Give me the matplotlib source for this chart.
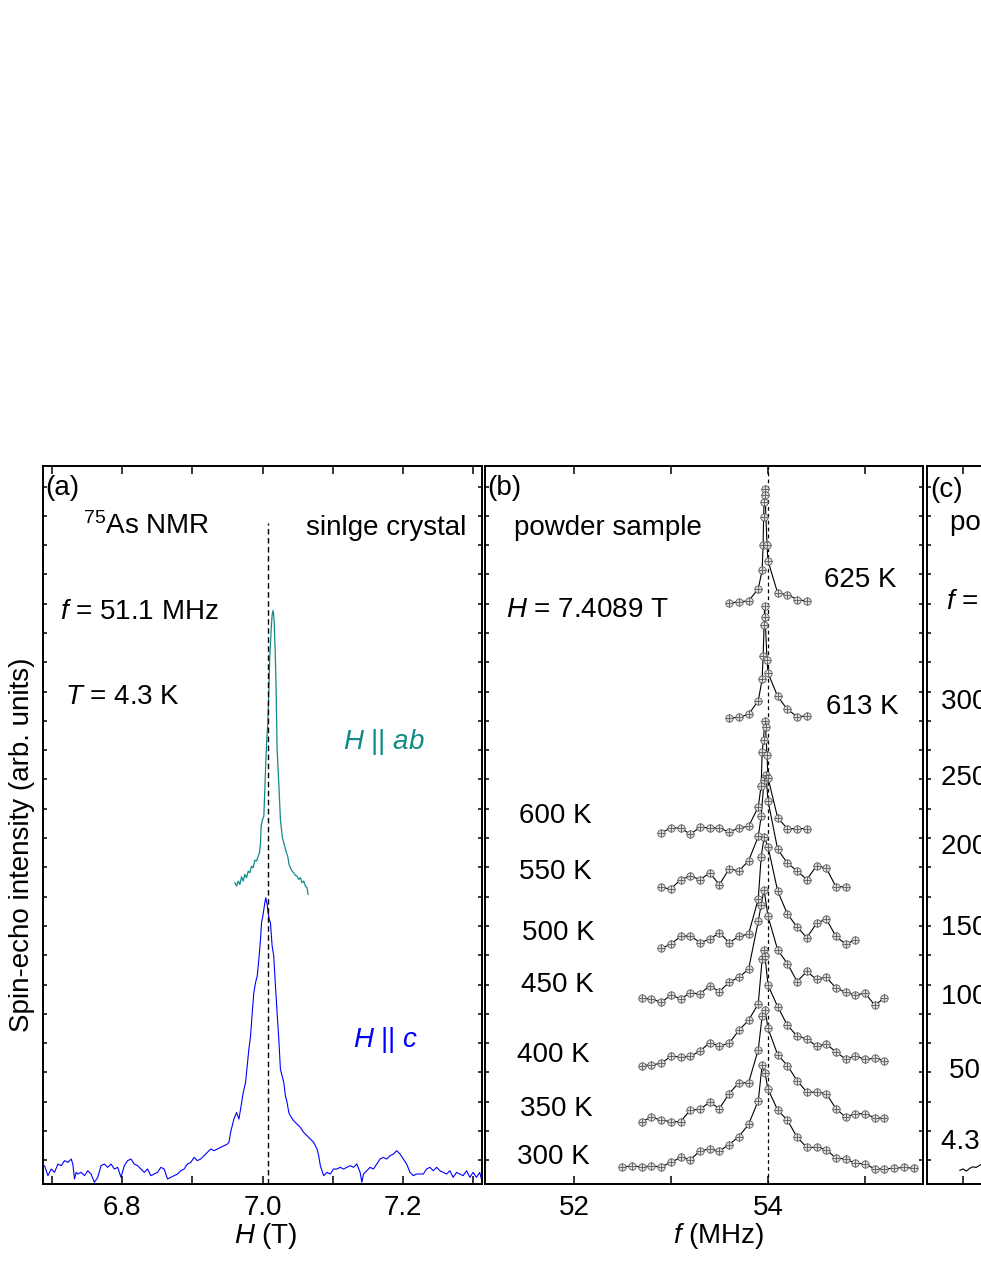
import numpy as np
import matplotlib
matplotlib.use('Agg')
import matplotlib.pyplot as plt

plt.rcParams['font.family'] = 'Liberation Sans'
plt.rcParams['mathtext.fontset'] = 'custom'
plt.rcParams['mathtext.rm'] = 'Liberation Sans'
plt.rcParams['mathtext.it'] = 'Liberation Sans:italic'
plt.rcParams['mathtext.bf'] = 'Liberation Sans:bold'

#---------- panel (a): 75As NMR field-swept spectra, single crystal, T = 4.3 K
h_c = [6.6898, 6.6946, 6.6993, 6.7040, 6.7088, 6.7135, 6.7182, 6.7230, 6.7277, 6.7300,
       6.7324, 6.7348, 6.7372, 6.7418, 6.7466, 6.7513, 6.7560, 6.7607, 6.7655, 6.7702,
       6.7749, 6.7797, 6.7844, 6.7891, 6.7939, 6.7986, 6.8033, 6.8080, 6.8128, 6.8175,
       6.8222, 6.8270, 6.8317, 6.8364, 6.8411, 6.8459, 6.8506, 6.8553, 6.8600, 6.8648,
       6.8695, 6.8742, 6.8790, 6.8837, 6.8884, 6.8931, 6.8979, 6.9026, 6.9073, 6.9120,
       6.9168, 6.9215, 6.9262, 6.9310, 6.9357, 6.9404, 6.9452, 6.9499,
       6.9522, 6.9546, 6.9593, 6.9631, 6.9664, 6.9688, 6.9726, 6.9759, 6.9783, 6.9806,
       6.9830, 6.9854, 6.9877, 6.9901, 6.9925, 6.9948, 6.9972, 6.9986, 7.0005, 7.0019,
       7.0033, 7.0047, 7.0066, 7.0080, 7.0095, 7.0113, 7.0137, 7.0160, 7.0184, 7.0208,
       7.0232, 7.0255, 7.0279, 7.0303, 7.0326, 7.0350, 7.0374, 7.0397, 7.0444, 7.0492,
       7.0539, 7.0586, 7.0634, 7.0681, 7.0728, 7.0752, 7.0776, 7.0800, 7.0823, 7.0847,
       7.0870, 7.0918, 7.0965, 7.1012,
       7.1059, 7.1106, 7.1153, 7.1201, 7.1248, 7.1295, 7.1343, 7.1390, 7.1414, 7.1437,
       7.1485, 7.1532, 7.1579, 7.1626, 7.1674, 7.1721, 7.1768, 7.1816, 7.1863, 7.1910,
       7.1957, 7.2005, 7.2052, 7.2099, 7.2147, 7.2194, 7.2241, 7.2289, 7.2336, 7.2383,
       7.2430, 7.2478, 7.2525, 7.2572, 7.2620, 7.2667, 7.2714, 7.2762, 7.2809, 7.2856,
       7.2904, 7.2951, 7.2998, 7.3045, 7.3092, 7.3116]
i_c = [2.55, 1.16, 2.09, 1.62, 2.78, 2.55, 3.25, 3.01, 3.48, 2.78,
       0.70, 1.62, 1.39, 1.62, 1.16, 1.85, 1.39, 0.23, 0.93, 2.55,
       2.78, 2.32, 2.78, 2.09, 2.32, 0.93, 2.55, 3.25, 3.48, 2.78,
       2.55, 2.09, 1.62, 2.09, 1.16, 1.39, 1.62, 2.32, 2.09, 0.70,
       0.93, 1.16, 1.39, 1.85, 2.09, 2.78, 3.01, 3.71, 3.25, 3.48,
       3.94, 4.40, 4.87, 4.64, 4.87, 5.10, 5.33, 5.56,
       5.80, 7.19, 9.04, 9.97, 9.04, 10.43, 12.75, 14.14, 16.46, 18.78,
       20.63, 23.88, 26.66, 28.05, 28.97, 31.29, 34.08, 36.40, 37.32, 38.25,
       39.18, 39.87, 38.94, 37.78, 36.86, 36.40, 33.15, 31.76, 27.59, 23.88,
       20.17, 15.99, 15.07, 14.14, 12.29, 11.36, 9.97, 9.50, 8.80, 8.34,
       7.88, 7.19, 6.72, 6.26, 5.80, 5.33, 4.87, 3.94, 2.55, 1.85,
       1.16, 1.62, 1.39, 2.09,
       2.09, 2.32, 2.09, 2.32, 2.55, 2.32, 2.78, 1.62, 0.23, 1.39,
       1.85, 2.32, 2.09, 2.78, 3.48, 3.71, 3.48, 3.94, 4.17, 4.64,
       4.17, 3.48, 2.78, 1.62, 1.16, 1.39, 1.39, 1.39, 2.09, 2.32,
       1.85, 2.32, 1.85, 1.62, 1.39, 1.85, 0.93, 1.62, 1.39, 1.16,
       1.85, 0.93, 1.62, 0.93, 1.62, 0.70]

h_ab = [6.9607, 6.9631, 6.9655, 6.9678, 6.9702, 6.9726, 6.9749, 6.9773, 6.9797, 6.9820,
        6.9844, 6.9868, 6.9891, 6.9915, 6.9939, 6.9957, 6.9972, 6.9981, 7.0000, 7.0019,
        7.0033, 7.0047, 7.0061, 7.0076, 7.0090, 7.0104, 7.0123, 7.0137, 7.0151, 7.0165,
        7.0180, 7.0194, 7.0208, 7.0222, 7.0236, 7.0255, 7.0270, 7.0284, 7.0303, 7.0322,
        7.0340, 7.0359, 7.0378, 7.0397, 7.0421, 7.0444, 7.0468, 7.0492, 7.0515, 7.0539,
        7.0563, 7.0586, 7.0610, 7.0634, 7.0648]
i_ab = [41.96, 41.49, 42.19, 41.72, 42.79, 42.19, 43.12, 42.65, 43.58, 43.35,
        44.27, 44.05, 45.11, 44.97, 45.66, 46.13, 47.52, 49.84, 50.76, 51.23,
        54.94, 58.65, 61.89, 64.21, 68.85, 73.48, 77.19, 79.28, 79.88, 78.58,
        74.41, 68.85, 60.50, 57.72, 54.94, 50.76, 49.37, 48.21, 47.52, 46.82,
        46.13, 45.66, 44.51, 44.05, 43.58, 43.35, 42.98, 42.89, 42.42, 42.65,
        41.96, 42.19, 41.49, 41.26, 40.33]

#---------- panel (b): powder sample, frequency-swept, H = 7.4089 T (stacked, arb. offsets)
f_300 = [52.5, 52.6, 52.7, 52.8, 52.9, 53.0, 53.1, 53.2, 53.3, 53.4, 53.5, 53.6, 53.7, 53.8, 53.9,
         53.94, 53.97, 54.0, 54.1, 54.2, 54.3, 54.4, 54.5, 54.6, 54.7, 54.8, 54.9, 55.0, 55.1,
         55.2, 55.3, 55.4, 55.5]
s_300 = [2.4, 2.5, 2.4, 2.5, 2.4, 3.0, 3.7, 3.4, 4.6, 4.9, 4.6, 5.5, 6.6, 8.3, 11.6,
         16.6, 15.4, 13.2, 10.3, 8.9, 6.5, 5.1, 5.1, 4.8, 3.6, 3.5, 2.9, 2.8, 2.1,
         2.1, 2.2, 2.3, 2.2]
f_350 = [52.7, 52.8, 52.9, 53.0, 53.1, 53.2, 53.3, 53.4, 53.5, 53.6, 53.7, 53.8, 53.9,
         53.94, 53.97, 54.0, 54.1, 54.2, 54.3, 54.4, 54.5, 54.6, 54.7, 54.8, 54.9, 55.0, 55.1, 55.2]
s_350 = [8.7, 9.3, 8.9, 8.7, 8.7, 10.3, 10.4, 11.4, 10.5, 12.6, 14.1, 14.1, 18.7,
         23.4, 24.3, 21.7, 18.0, 16.5, 14.4, 12.8, 12.8, 12.6, 10.5, 9.3, 9.8, 9.8, 9.2, 9.2]
f_400 = [52.7, 52.8, 52.9, 53.0, 53.1, 53.2, 53.3, 53.4, 53.5, 53.6, 53.7, 53.8, 53.9,
         53.94, 53.96, 53.97, 54.0, 54.1, 54.2, 54.3, 54.4, 54.5, 54.6, 54.7, 54.8, 54.9,
         55.0, 55.1, 55.2]
s_400 = [16.5, 16.6, 16.8, 17.8, 17.7, 17.8, 18.5, 19.7, 19.2, 19.6, 21.4, 22.8, 25.1,
         31.3, 32.6, 31.7, 27.7, 24.7, 22.1, 20.6, 20.2, 19.2, 19.5, 18.4, 17.4, 17.8,
         17.4, 17.5, 17.2]
f_450 = [52.7, 52.8, 52.9, 53.0, 53.1, 53.2, 53.3, 53.4, 53.5, 53.6, 53.7, 53.8, 53.9,
         53.93, 53.96, 54.0, 54.1, 54.2, 54.3, 54.4, 54.5, 54.6, 54.7, 54.8, 54.9, 55.0, 55.1, 55.2]
s_450 = [25.9, 25.8, 25.3, 26.3, 25.8, 26.6, 26.5, 27.6, 26.8, 28.1, 28.8, 29.9, 36.6,
         38.9, 41.0, 37.3, 32.6, 30.7, 28.2, 29.6, 28.5, 28.8, 27.3, 26.7, 26.3, 26.6, 24.9, 25.9]
f_500 = [52.9, 53.0, 53.1, 53.2, 53.3, 53.4, 53.5, 53.6, 53.7, 53.8, 53.9,
         53.93, 53.96, 54.0, 54.1, 54.2, 54.3, 54.4, 54.5, 54.6, 54.7, 54.8, 54.9]
s_500 = [32.8, 33.4, 34.5, 34.6, 33.6, 34.1, 35.0, 33.6, 34.5, 34.8, 39.7,
         45.6, 48.3, 47.0, 40.8, 37.6, 35.8, 34.3, 36.3, 36.9, 34.5, 33.4, 34.0]
f_550 = [52.9, 53.0, 53.1, 53.2, 53.3, 53.4, 53.5, 53.6, 53.7, 53.8, 53.9,
         53.93, 53.96, 53.98, 54.0, 54.1, 54.2, 54.3, 54.4, 54.5, 54.6, 54.7, 54.8]
s_550 = [41.3, 41.1, 42.4, 42.9, 42.4, 43.3, 41.7, 43.9, 43.6, 45.0, 48.4,
         51.2, 56.3, 56.9, 53.4, 46.6, 44.7, 43.6, 42.4, 44.3, 44.0, 41.4, 41.4]
f_600 = [52.9, 53.0, 53.1, 53.2, 53.3, 53.4, 53.5, 53.6, 53.7, 53.8, 53.9,
         53.93, 53.94, 53.955, 53.965, 53.975, 53.99, 54.0, 54.1, 54.2, 54.3, 54.4]
s_600 = [48.9, 49.6, 49.6, 48.7, 49.7, 49.6, 49.6, 49.0, 49.6, 49.8, 52.5,
         55.5, 60.2, 61.9, 64.5, 63.6, 59.8, 56.6, 51.0, 49.5, 49.5, 49.5]
f_613 = [53.6, 53.7, 53.8, 53.9, 53.94, 53.95, 53.96, 53.965, 53.97, 53.99, 54.0,
         54.1, 54.2, 54.3, 54.4]
s_613 = [64.9, 65.0, 65.4, 67.3, 70.3, 73.5, 77.8, 80.5, 79.0, 73.0, 71.2,
         67.9, 66.1, 65.1, 65.2]
f_625 = [53.6, 53.7, 53.8, 53.9, 53.94, 53.95, 53.955, 53.96, 53.965, 53.97, 53.99, 54.0,
         54.1, 54.2, 54.3, 54.4]
s_625 = [80.9, 81.1, 81.2, 82.9, 85.5, 89.0, 92.9, 95.0, 96.8, 96.0, 89.0, 86.8,
         82.3, 82.1, 81.4, 81.2]

powder = [(f_300, s_300), (f_350, s_350), (f_400, s_400), (f_450, s_450), (f_500, s_500),
          (f_550, s_550), (f_600, s_600), (f_613, s_613), (f_625, s_625)]
temps_b = ['300 K', '350 K', '400 K', '450 K', '500 K', '550 K', '600 K', '613 K', '625 K']

#---------- panel (c): only the left edge is inside the figure
g_43 = [0.075, 0.082, 0.090, 0.098, 0.105, 0.112, 0.120, 0.127]
s_43 = [1.9, 2.1, 1.8, 2.2, 2.4, 2.3, 2.6, 2.8]
temps_c = ['300 K', '250 K', '200 K', '150 K', '100 K', '50 K', '4.3 K']

W, H = 981, 1269
fig = plt.figure(figsize=(W / 100, H / 100), dpi=100)
bot = (H - 1184) / H
hgt = 718 / H
ax_a = fig.add_axes([43.3 / W, bot, 438.4 / W, hgt])
ax_b = fig.add_axes([484.5 / W, bot, 438.8 / W, hgt])
ax_c = fig.add_axes([927.0 / W, bot, 438.0 / W, hgt])

teal = '#128a88'
blue = '#0000ff'
fs = 20

for ax in (ax_a, ax_b, ax_c):
    ax.set_ylim(0, 100)
    for s in ax.spines.values():
        s.set_linewidth(1.4)
    ax.set_yticks(np.arange(3.3, 100, 4.08))
    ax.set_yticklabels([])
    ax.tick_params(axis='both', which='both', direction='in', top=True, right=True,
                   width=1.1, labelsize=fs, pad=8)
    ax.tick_params(axis='x', which='both', length=6)
    ax.tick_params(axis='y', which='both', length=3)

# (a)
ax_a.plot(h_c, i_c, color=blue, lw=0.8)
ax_a.plot(h_ab, i_ab, color=teal, lw=0.9)
ax_a.plot([7.0085, 7.0085], [0, 92], 'k--', lw=1.0, dashes=(4, 2.5))
ax_a.set_xlim(6.688, 7.312)
ax_a.set_xticks([6.8, 7.0, 7.2])
ax_a.set_xticklabels(['6.8', '7.0', '7.2'])
ax_a.set_xticks([6.7, 6.9, 7.1, 7.3], minor=True)
ax_a.set_xlabel('$H$ (T)', fontsize=fs)
ax_a.xaxis.set_label_coords(0.508, -0.052)

ta = ax_a.transAxes
ax_a.text(0.004, 0.969, '(a)', transform=ta, fontsize=fs, va='center', ha='left')
ax_a.text(0.091, 0.916, r'$^{75}$As NMR', transform=ta, fontsize=fs, va='center', ha='left')
ax_a.text(0.964, 0.913, 'sinlge crystal', transform=ta, fontsize=fs, va='center', ha='right')
ax_a.text(0.038, 0.796, r'$f$ = 51.1 MHz', transform=ta, fontsize=fs, va='center', ha='left')
ax_a.text(0.050, 0.678, r'$T$ = 4.3 K', transform=ta, fontsize=fs, va='center', ha='left')
ax_a.text(0.684, 0.615, r'$H$ || $ab$', transform=ta, fontsize=fs, va='center', ha='left', color=teal)
ax_a.text(0.706, 0.201, r'$H$ || $c$', transform=ta, fontsize=fs, va='center', ha='left', color=blue)

fig.text(22 / W, (H - 845) / H, 'Spin-echo intensity (arb. units)', rotation=90,
         ha='center', va='center', fontsize=fs)

# (b)
for f, s in powder:
    ax_b.plot(f, s, '-', color='k', lw=0.8, zorder=2)
    ax_b.plot(f, s, 'o', ms=5.3, mfc='#dcdcdc', mec='#5a5a5a', mew=0.6, zorder=3)
    ax_b.plot(f, s, '+', ms=5.3, color='#5a5a5a', mew=0.6, zorder=4)
ax_b.plot([54.0, 54.0], [0, 100], 'k--', lw=0.9, dashes=(3, 2.5), zorder=1)
ax_b.set_xlim(51.08, 55.6)
ax_b.set_xticks([52, 54])
ax_b.set_xticks([53, 55], minor=True)
ax_b.set_xlabel('$f$ (MHz)', fontsize=fs)
ax_b.xaxis.set_label_coords(0.534, -0.052)

tb = ax_b.transAxes
ax_b.text(0.006, 0.969, '(b)', transform=tb, fontsize=fs, va='center', ha='left')
ax_b.text(0.067, 0.913, 'powder sample', transform=tb, fontsize=fs, va='center', ha='left')
ax_b.text(0.049, 0.799, r'$H$ = 7.4089 T', transform=tb, fontsize=fs, va='center', ha='left')
lab_b = [(0.075, 0.037), (0.080, 0.105), (0.074, 0.179), (0.083, 0.277), (0.085, 0.350),
         (0.079, 0.435), (0.079, 0.513), (0.778, 0.664), (0.774, 0.841)]
for (x, y), t in zip(lab_b, temps_b):
    ax_b.text(x, y, t, transform=tb, fontsize=fs, va='center', ha='left')

# (c)
ax_c.plot(g_43, s_43, color='k', lw=0.8)
ax_c.set_xlim(0, 1)
ax_c.set_xticks([0.082])
ax_c.set_xticklabels([])
tc = ax_c.transAxes
ax_c.text(0.007, 0.967, '(c)', transform=tc, fontsize=fs, va='center', ha='left')
ax_c.text(0.053, 0.920, 'powder sample', transform=tc, fontsize=fs, va='center', ha='left')
ax_c.text(0.043, 0.811, r'$f$ = 51.1 MHz', transform=tc, fontsize=fs, va='center', ha='left')
lab_c = [(0.032, 0.672), (0.032, 0.566), (0.032, 0.470), (0.032, 0.356), (0.032, 0.260),
         (0.050, 0.158), (0.032, 0.058)]
for (x, y), t in zip(lab_c, temps_c):
    ax_c.text(x, y, t, transform=tc, fontsize=fs, va='center', ha='left')

fig.savefig('out.png', dpi=100)
